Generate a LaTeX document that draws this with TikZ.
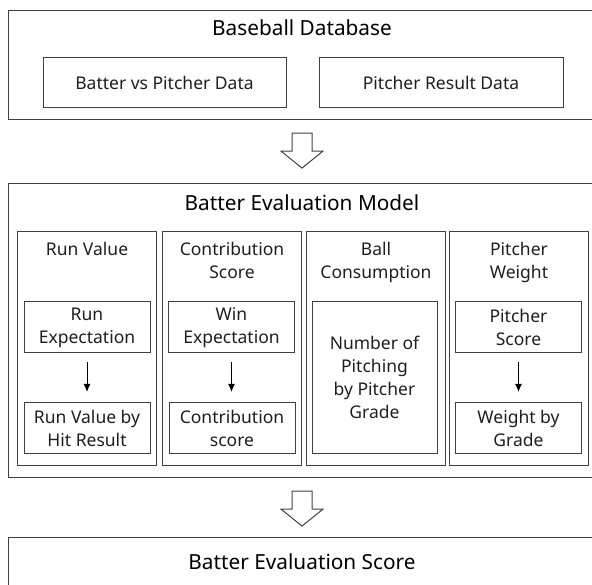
\documentclass[tikz,border=0pt]{standalone}
\usepackage{fontspec}
\setmainfont{Noto Sans}
\usepackage{tikz}
\usepackage{xcolor}
\usetikzlibrary{calc, arrows.meta, positioning}

\definecolor{linegray}{HTML}{404040}
\definecolor{textdark}{HTML}{1E1E1E}

\tikzset{
  outerbox/.style={draw=linegray, line width=1.1pt, anchor=north west, inner sep=0pt},
  colbox/.style={draw=linegray, line width=1pt, anchor=north west,
    minimum width=139pt, minimum height=234pt, inner sep=0pt},
  innerbox/.style={draw=linegray, line width=1pt, minimum width=126pt,
    minimum height=51pt, align=center, inner sep=0pt,
    font=\fontsize{17.5}{23}\selectfont, text=textdark},
  coltitle/.style={anchor=north, align=center, inner sep=0pt,
    font=\fontsize{17.5}{23}\selectfont, text=textdark},
  boxtitle/.style={inner sep=0pt, font=\fontsize{20.8}{24}\selectfont, text=black},
  steparrow/.style={-{Latex[length=8pt,width=7pt]}, line width=1pt, black,
    shorten <=9pt, shorten >=10pt},
  blockarrow/.style={draw=linegray, line width=1pt, fill=white, line join=miter}
}

% hollow arrow pointing down, hung below a given point
\newcommand{\blockdown}[1]{%
  \draw[blockarrow] ($(#1)+(-10,13)$) -- ++(20,0) -- ++(0,18) -- ++(11,0)
    -- ++(-21,17) -- ++(-21,-17) -- ++(11,0) -- cycle;}

\begin{document}
\begin{tikzpicture}[x=1pt, y=-1pt]
  \useasboundingbox (0,0) rectangle (592,585);
  \clip (0,0) rectangle (592,585);

  % Database
  \node[outerbox, minimum width=600pt, minimum height=109pt] (db) at (8,10) {};
  \node[boxtitle] (dbtitle) at (302,28) {Baseball Database};
  \node[innerbox, minimum width=243pt, minimum height=50pt] (bvp) at (164.5,83) {Batter vs Pitcher Data};
  \node[innerbox, minimum width=244pt, minimum height=50pt] (pres) at (441,83) {Pitcher Result Data};

  % Model
  \node[outerbox, minimum width=600pt, minimum height=294pt] (model) at (8,183) {};
  \node[boxtitle] (modeltitle) at (302,203) {Batter Evaluation Model};

  \node[colbox] (runcol) at (17,231) {};
  \node[colbox] (contcol) at (162,231) {};
  \node[colbox] (ballcol) at (306,231) {};
  \node[colbox] (pitchcol) at (449,231) {};

  \node[coltitle] (runhead) at ($(runcol.north)+(0,11)$) {Run Value};
  \node[coltitle] (conthead) at ($(contcol.north)+(0,11)$) {Contribution\\Score};
  \node[coltitle] (ballhead) at ($(ballcol.north)+(0,11)$) {Ball\\Consumption};
  \node[coltitle] (pitchhead) at ($(pitchcol.north)+(0,11)$) {Pitcher\\Weight};

  \node[innerbox] (runexp) at (87,327.5) {Run\\Expectation};
  \node[innerbox] (runval) at (87,428) {Run Value by\\Hit Result};
  \node[innerbox] (winexp) at (231.5,327.5) {Win\\Expectation};
  \node[innerbox] (contscore) at (232,428) {Contribution\\score};
  \node[innerbox, minimum width=125pt, minimum height=151pt] (pitching) at (374.5,377.5)
    {Number of\\Pitching\\by Pitcher\\Grade};
  \node[innerbox] (pscore) at (518.5,327.5) {Pitcher\\Score};
  \node[innerbox] (wgrade) at (518.5,428) {Weight by\\Grade};

  \draw[steparrow] (runexp) -- (runexp |- runval.north);
  \draw[steparrow] (winexp) -- (winexp |- contscore.north);
  \draw[steparrow] (pscore) -- (pscore |- wgrade.north);

  % Score
  \node[outerbox, minimum width=600pt, minimum height=80pt] (score) at (8,537) {};
  \node[boxtitle] (scoretitle) at (302,562) {Batter Evaluation Score};

  % Block arrows
  \coordinate (arrA) at (db.south -| dbtitle);
  \coordinate (arrB) at (model.south -| dbtitle);
  \blockdown{arrA}
  \blockdown{arrB}
\end{tikzpicture}
\end{document}
